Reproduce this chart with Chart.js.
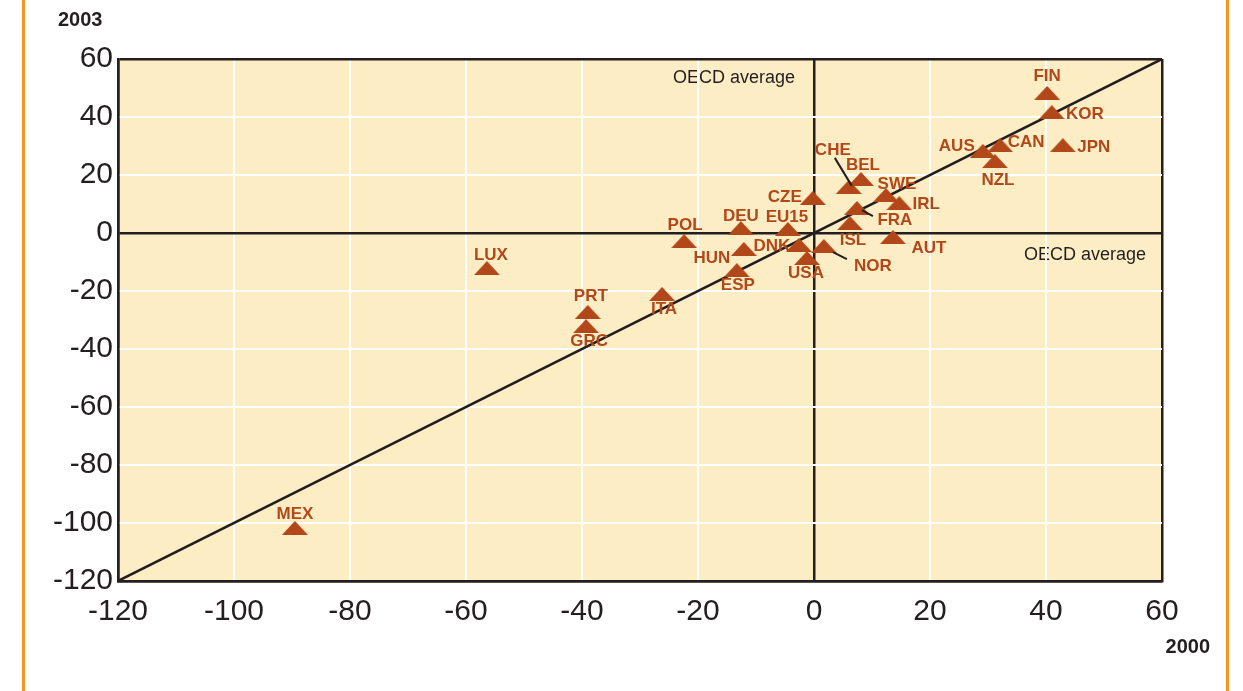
<!DOCTYPE html>
<html>
<head>
<meta charset="utf-8">
<script src="https://cdn.jsdelivr.net/npm/chart.js@4.4.1/dist/chart.umd.min.js"></script>
<style>
  html, body { margin: 0; padding: 0; background: #ffffff; }
  #wrap { width: 1243px; height: 691px; position: relative; }
</style>
</head>
<body>
<div id="wrap"><canvas id="scatter" width="1243" height="691"></canvas></div>
<script>
// Values: x = 2000, y = 2003
const countries = ['CHE', 'BEL', 'SWE', 'IRL', 'FRA', 'ISL', 'AUT', 'CZE', 'EU15', 'DEU',
  'POL', 'HUN', 'DNK', 'NOR', 'USA', 'ESP', 'ITA', 'PRT', 'GRC', 'LUX',
  'MEX', 'FIN', 'KOR', 'CAN', 'AUS', 'NZL', 'JPN'];
const values2000 = [6.0, 8.1, 12.4, 14.7, 7.4, 6.2, 13.6, -0.2, -4.5, -12.6,
  -22.4, -12.1, -2.6, 1.7, -1.2, -13.3, -26.2, -39.0, -39.3, -56.4,
  -89.5, 40.2, 41.0, 32.1, 29.1, 31.2, 42.9];
const values2003 = [15.9, 18.6, 13.1, 10.3, 8.6, 3.4, -1.4, 12.1, 1.4, 1.7,
  -2.8, -5.5, -4.1, -4.5, -8.6, -12.8, -21.0, -27.2, -32.1, -12.1,
  -101.7, 48.3, 41.7, 30.3, 28.3, 24.8, 30.3];
const diagonalX = [-120, 60];
const diagonalY = [-120, 60];
const axisMin = -120;
const axisMax = 60;
const axisStep = 20;

const INK = '#231f20';
const BROWN = '#b2481a';
const FILL = '#fdedc4';
const FRAME = '#f7941d';

// label placement around each marker (pixels)
const labelOffset = {
  CHE: [-16, -38], BEL: [2, -15], SWE: [11, -12], IRL: [27, 0], FRA: [38, 11],
  ISL: [3, 16], AUT: [36, 10], CZE: [-28, -2], EU15: [-1, -13], DEU: [0, -13],
  POL: [1, -17], HUN: [-32, 8], DNK: [-27, 0], NOR: [49, 19], USA: [-1, 14],
  ESP: [1, 14], ITA: [2, 14], PRT: [3, -17], GRC: [3, 14], LUX: [4, -14],
  MEX: [0, -15], FIN: [0, -18], KOR: [33, 1], CAN: [26, -4], AUS: [-26, -6],
  NZL: [3, 18], JPN: [31, 1]
};
const leaders = {
  CHE: [-14, -29, 3, -1],
  FRA: [5, 2, 16, 8],
  NOR: [9, 6, 23, 13]
};

function makeTriangle() {
  const c = document.createElement('canvas');
  c.width = 26;
  c.height = 14;
  const g = c.getContext('2d');
  g.fillStyle = BROWN;
  g.beginPath();
  g.moveTo(13, 0);
  g.lineTo(26, 14);
  g.lineTo(0, 14);
  g.closePath();
  g.fill();
  return c;
}

const decorPlugin = {
  id: 'decor',
  beforeDraw(chart) {
    const { ctx, chartArea: a } = chart;
    ctx.save();
    ctx.fillStyle = FILL;
    ctx.fillRect(a.left, a.top, a.right - a.left, a.bottom - a.top);
    ctx.fillStyle = INK;
    ctx.font = '18px "Liberation Sans", Arial, sans-serif';
    ctx.textBaseline = 'alphabetic';
    ctx.textAlign = 'left';
    ctx.fillText('OECD average', 673, 83);
    ctx.textAlign = 'right';
    ctx.fillText('OECD average', 1146, 260);
    ctx.restore();
  },
  afterDatasetsDraw(chart) {
    const { ctx } = chart;
    const pts = chart.getDatasetMeta(0).data;
    ctx.save();
    ctx.font = 'bold 17px "Liberation Sans", Arial, sans-serif';
    ctx.fillStyle = BROWN;
    ctx.textAlign = 'center';
    ctx.textBaseline = 'middle';
    countries.forEach((name, i) => {
      const p = pts[i];
      const off = labelOffset[name] || [0, -15];
      ctx.fillText(name, p.x + off[0], p.y + off[1] + 1);
      const l = leaders[name];
      if (l) {
        ctx.strokeStyle = INK;
        ctx.lineWidth = 2;
        ctx.beginPath();
        ctx.moveTo(p.x + l[0], p.y + l[1]);
        ctx.lineTo(p.x + l[2], p.y + l[3]);
        ctx.stroke();
      }
    });
    ctx.restore();
  },
  afterDraw(chart) {
    const { ctx } = chart;
    ctx.save();
    ctx.fillStyle = INK;
    ctx.font = 'bold 20px "Liberation Sans", Arial, sans-serif';
    ctx.textBaseline = 'alphabetic';
    ctx.textAlign = 'left';
    ctx.fillText('2003', 58, 26);
    ctx.textAlign = 'right';
    ctx.fillText('2000', 1210, 653);
    ctx.strokeStyle = FRAME;
    ctx.lineWidth = 3;
    ctx.beginPath();
    ctx.moveTo(23.5, 0);
    ctx.lineTo(23.5, 691);
    ctx.moveTo(1227.5, 0);
    ctx.lineTo(1227.5, 691);
    ctx.stroke();
    ctx.restore();
  }
};

function isDark(context) {
  const v = context.tick && context.tick.value;
  return v === 0 || v === axisMin || v === axisMax;
}

const tickFont = { family: '"Liberation Sans", Arial, sans-serif', size: 30 };

new Chart(document.getElementById('scatter'), {
  data: {
    datasets: [{
      type: 'scatter',
      data: countries.map((c, i) => ({ x: values2000[i], y: values2003[i] })),
      pointStyle: makeTriangle(),
      pointRadius: 13,
      order: 0
    }, {
      type: 'line',
      data: diagonalX.map((x, i) => ({ x, y: diagonalY[i] })),
      borderColor: INK,
      borderWidth: 2.5,
      pointRadius: 0,
      fill: false,
      order: 1
    }]
  },
  options: {
    responsive: false,
    animation: false,
    devicePixelRatio: 1,
    layout: { padding: { top: 59, right: 81, left: 0, bottom: 0 } },
    plugins: {
      legend: { display: false },
      tooltip: { enabled: false }
    },
    scales: {
      x: {
        type: 'linear',
        min: axisMin,
        max: axisMax,
        afterFit: (scale) => { scale.height = 110; },
        ticks: { stepSize: axisStep, color: INK, font: tickFont, padding: 13, maxRotation: 0 },
        grid: {
          color: (c) => isDark(c) ? INK : '#ffffff',
          lineWidth: (c) => isDark(c) ? 2.5 : 2,
          drawTicks: false
        },
        border: { color: INK, width: 2.5 }
      },
      y: {
        type: 'linear',
        min: axisMin,
        max: axisMax,
        afterFit: (scale) => { scale.width = 118; },
        ticks: { stepSize: axisStep, color: INK, font: tickFont, padding: 5 },
        grid: {
          color: (c) => isDark(c) ? INK : '#ffffff',
          lineWidth: (c) => isDark(c) ? 2.5 : 2,
          drawTicks: false
        },
        border: { color: INK, width: 2.5 }
      }
    }
  },
  plugins: [decorPlugin]
});
</script>
</body>
</html>
